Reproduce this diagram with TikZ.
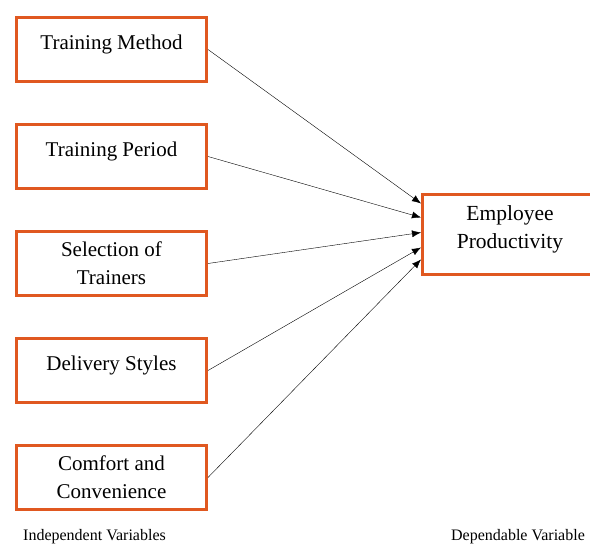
\documentclass[tikz,border=0pt]{standalone}
\usepackage{fontspec}
\setmainfont{Liberation Serif}
\usetikzlibrary{positioning, arrows.meta}
\definecolor{boxorange}{RGB}{224,88,32}

\begin{document}
\begin{tikzpicture}[x=1pt, y=-1pt, >={Latex[length=9pt,width=7pt]}, semithick,
  varbox/.style={draw=boxorange, line width=3pt, fill=white, shape=rectangle, align=center,
    minimum width=190pt, minimum height=64pt, inner sep=0pt,
    font=\fontsize{21}{28}\selectfont},
  oneline/.style={text height=7pt, text depth=7pt},
  caption/.style={font=\fontsize{16}{18}\selectfont, inner sep=0pt}]
  \useasboundingbox (0,0) rectangle (590,545);
  \begin{scope}
  \clip (0,0) rectangle (590,545);
  % independent variables, one above the other
  \node[varbox, oneline] (method) at (111.5,49.5) {Training Method};
  \node[varbox, oneline, below=40pt of method] (period) {Training Period};
  \node[varbox, below=40pt of period] (trainers) {Selection of\\Trainers};
  \node[varbox, oneline, below=40pt of trainers] (delivery) {Delivery Styles};
  \node[varbox, below=40pt of delivery] (comfort) {Comfort and\\Convenience};
  % dependent variable, runs off the right edge
  \node[varbox, minimum width=175pt, minimum height=80pt, text depth=15pt,
    font=\fontsize{21.5}{28}\selectfont] (prod) at (510,234.5) {Employee\\Productivity};
  \end{scope}

  \node[caption] (indep) at (94.5,537) {Independent Variables};
  \node[caption] (dep) at (518,537) {Dependable Variable};

  \path[->, thin, black]
    (method.east) edge ([yshift=31pt]prod.west)
    (period.east) edge ([yshift=17pt]prod.west)
    (trainers.east) edge ([yshift=2pt]prod.west)
    (delivery.east) edge ([yshift=-13pt]prod.west)
    (comfort.east) edge ([yshift=-25pt]prod.west);
\end{tikzpicture}
\end{document}
